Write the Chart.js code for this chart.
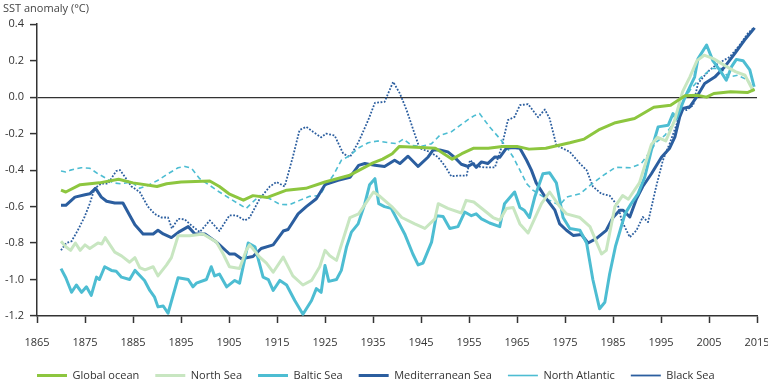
<!DOCTYPE html>
<html>
<head>
<meta charset="utf-8">
<script src="https://cdn.jsdelivr.net/npm/chart.js@4.4.1/dist/chart.umd.min.js"></script>
<style>
  html, body { margin: 0; padding: 0; background: #fff; }
  #wrap { width: 768px; height: 383px; position: relative; }
</style>
</head>
<body>
<div id="wrap"><canvas id="sstChart"></canvas></div>
<script>
// Tick values for the axes
const xTicks = [1865, 1875, 1885, 1895, 1905, 1915, 1925, 1935, 1945, 1955, 1965, 1975, 1985, 1995, 2005, 2015];
const yTicks = [-1.2, -1.0, -0.8, -0.6, -0.4, -0.2, 0.0, 0.2, 0.4];

// Global ocean
const globalYears = [1870, 1871, 1874, 1878, 1882, 1885, 1890, 1892, 1895, 1901, 1903, 1905, 1908, 1910, 1913, 1917, 1921, 1925, 1930, 1935, 1937, 1939, 1940.5, 1944, 1948, 1951.5, 1953.5, 1956, 1959, 1962, 1965, 1967.5, 1971, 1976, 1979, 1982, 1985.5, 1989.5, 1993.5, 1997, 2000, 2002.5, 2004.5, 2006, 2009.5, 2013, 2014.5];
const globalVals = [-0.51, -0.52, -0.48, -0.47, -0.45, -0.47, -0.49, -0.475, -0.465, -0.46, -0.49, -0.53, -0.565, -0.54, -0.55, -0.51, -0.5, -0.465, -0.43, -0.36, -0.34, -0.31, -0.27, -0.275, -0.28, -0.34, -0.31, -0.28, -0.28, -0.27, -0.27, -0.285, -0.28, -0.25, -0.23, -0.18, -0.14, -0.117, -0.055, -0.044, 0.008, 0.01, 0.0, 0.02, 0.03, 0.025, 0.042];

// North Sea
const northSeaYears = [1870, 1871, 1872, 1873, 1874, 1875, 1876, 1877.7, 1878.5, 1879.2, 1881.2, 1882.6, 1884.3, 1885.4, 1886.4, 1887.5, 1889.2, 1890.2, 1892, 1893, 1894.4, 1896.8, 1899.6, 1902.4, 1903.8, 1905.1, 1907.2, 1908.6, 1909.3, 1911.4, 1912.8, 1914.2, 1916.3, 1918.3, 1920.4, 1922.2, 1923.9, 1925, 1926, 1927.4, 1930.2, 1932, 1935.1, 1936.5, 1938.9, 1941, 1943.7, 1945.8, 1947.9, 1948.6, 1950.6, 1953.4, 1954.4, 1956, 1960, 1961.4, 1962.8, 1964.2, 1965.6, 1967.3, 1970.1, 1971.8, 1973.9, 1975.3, 1978.1, 1980.2, 1982.6, 1983.6, 1985.4, 1987, 1988.2, 1990.5, 1993, 1994.3, 1996, 1997.8, 1999.5, 2001, 2002.5, 2004, 2006, 2008.5, 2010.5, 2012.5, 2014.3];
const northSeaVals = [-0.79, -0.82, -0.84, -0.8, -0.84, -0.81, -0.83, -0.8, -0.805, -0.77, -0.85, -0.87, -0.905, -0.88, -0.935, -0.947, -0.93, -0.98, -0.92, -0.88, -0.76, -0.76, -0.75, -0.795, -0.86, -0.93, -0.94, -0.84, -0.81, -0.877, -0.91, -0.96, -0.877, -0.98, -1.03, -1.005, -0.93, -0.84, -0.87, -0.895, -0.66, -0.64, -0.52, -0.545, -0.6, -0.66, -0.695, -0.72, -0.667, -0.584, -0.61, -0.635, -0.566, -0.575, -0.66, -0.675, -0.61, -0.605, -0.695, -0.745, -0.584, -0.52, -0.6, -0.64, -0.66, -0.71, -0.86, -0.84, -0.6, -0.54, -0.56, -0.47, -0.26, -0.22, -0.24, -0.13, 0.03, 0.11, 0.2, 0.23, 0.21, 0.17, 0.14, 0.12, 0.03];

// Baltic Sea
const balticYears = [1870, 1871, 1872.2, 1873.2, 1874.3, 1875.3, 1876.3, 1877.4, 1878, 1879.1, 1880.5, 1881.5, 1882.6, 1884.3, 1885.4, 1887.4, 1888.5, 1889.5, 1890.2, 1891.3, 1892.3, 1894.4, 1896.5, 1897.5, 1898.2, 1900.3, 1901.3, 1902, 1903, 1904.5, 1906.2, 1907.2, 1909, 1910.4, 1912.1, 1913.2, 1914.2, 1915.6, 1917, 1918.7, 1920.4, 1922.2, 1923.2, 1924.2, 1925, 1925.8, 1927.4, 1928.4, 1929.5, 1930.5, 1931.9, 1933.3, 1934.3, 1935.4, 1936.2, 1937.4, 1938.8, 1941.6, 1943.3, 1944.4, 1945.4, 1947.2, 1948.2, 1949.6, 1951, 1952.7, 1954.1, 1955.5, 1956.5, 1957.6, 1959.3, 1961.4, 1962.4, 1964.5, 1965.6, 1966.5, 1967.6, 1968.7, 1970.4, 1971.8, 1973.2, 1974.6, 1976, 1978.1, 1979.5, 1980.8, 1982.2, 1983.3, 1984.3, 1985.5, 1986.5, 1987.5, 1988.8, 1990.2, 1991.6, 1993, 1994.4, 1996.5, 1997.5, 1998.2, 2000, 2002, 2002.7, 2004.5, 2005.8, 2007.2, 2008.6, 2009.7, 2010.7, 2012.1, 2013.5, 2014.4];
const balticVals = [-0.94, -0.99, -1.07, -1.03, -1.07, -1.04, -1.087, -0.987, -1.0, -0.93, -0.95, -0.955, -0.987, -1.0, -0.95, -1.005, -1.06, -1.097, -1.15, -1.145, -1.185, -0.99, -1.0, -1.04, -1.02, -1.0, -0.93, -0.98, -0.97, -1.04, -1.005, -1.02, -0.8, -0.82, -0.987, -1.0, -1.06, -1.005, -1.03, -1.115, -1.19, -1.115, -1.05, -1.07, -0.923, -1.01, -1.0, -0.95, -0.82, -0.74, -0.695, -0.584, -0.48, -0.447, -0.584, -0.6, -0.61, -0.75, -0.86, -0.92, -0.91, -0.795, -0.65, -0.655, -0.72, -0.71, -0.63, -0.65, -0.64, -0.667, -0.69, -0.71, -0.584, -0.52, -0.605, -0.62, -0.66, -0.548, -0.42, -0.415, -0.47, -0.66, -0.72, -0.73, -0.8, -1.0, -1.16, -1.125, -0.97, -0.82, -0.73, -0.64, -0.584, -0.53, -0.44, -0.29, -0.163, -0.154, -0.09, -0.12, 0.0, 0.11, 0.21, 0.286, 0.2, 0.15, 0.093, 0.167, 0.207, 0.2, 0.15, 0.057];

// Mediterranean Sea
const medYears = [1870, 1871, 1872.9, 1875, 1876, 1877.2, 1878.4, 1879.5, 1881.2, 1882.9, 1884.3, 1885.4, 1887.1, 1889.2, 1890.2, 1891.3, 1893, 1894.5, 1896.5, 1897.9, 1900, 1902.4, 1905.1, 1906.2, 1907.6, 1910, 1911.7, 1914.2, 1916.3, 1917.3, 1919.4, 1921.1, 1923.2, 1925, 1927.7, 1930.2, 1932, 1933.3, 1935.4, 1937.4, 1939.5, 1940.6, 1942.3, 1944.4, 1946.5, 1947.5, 1948.9, 1950.6, 1952, 1953.4, 1954.8, 1955.8, 1956.5, 1957.6, 1958.9, 1960.4, 1961.4, 1962.8, 1964.2, 1965.6, 1967, 1968, 1969, 1971.1, 1972.9, 1973.9, 1975.3, 1976.7, 1978.4, 1979.8, 1981.5, 1983.6, 1985, 1986.4, 1987.1, 1988.5, 1989.9, 1991.2, 1993, 1995.1, 1996.8, 1997.9, 1998.9, 1999.6, 2001, 2002.4, 2004.1, 2006.2, 2008.3, 2010.4, 2012.4, 2014.5];
const medVals = [-0.593, -0.593, -0.548, -0.535, -0.53, -0.5, -0.548, -0.571, -0.58, -0.58, -0.648, -0.7, -0.75, -0.75, -0.73, -0.75, -0.77, -0.74, -0.71, -0.75, -0.75, -0.795, -0.86, -0.86, -0.886, -0.874, -0.83, -0.81, -0.734, -0.726, -0.64, -0.6, -0.557, -0.48, -0.456, -0.44, -0.374, -0.364, -0.374, -0.38, -0.346, -0.364, -0.324, -0.38, -0.328, -0.29, -0.29, -0.3, -0.33, -0.368, -0.38, -0.364, -0.385, -0.355, -0.364, -0.328, -0.33, -0.28, -0.276, -0.28, -0.346, -0.4, -0.47, -0.557, -0.62, -0.695, -0.73, -0.758, -0.753, -0.8, -0.776, -0.73, -0.66, -0.62, -0.62, -0.657, -0.557, -0.49, -0.42, -0.33, -0.28, -0.218, -0.108, -0.062, -0.053, 0.0, 0.075, 0.11, 0.167, 0.24, 0.313, 0.38];

// North Atlantic
const atlYears = [1870, 1871, 1872, 1874.2, 1876, 1877.7, 1879.5, 1880.8, 1882.6, 1884.7, 1886.4, 1888.1, 1890.2, 1892.3, 1894.4, 1895.8, 1897.2, 1898.9, 1901, 1903, 1905.8, 1908.6, 1909.6, 1911.4, 1913.5, 1915.6, 1917.6, 1919.7, 1921.8, 1923.9, 1925, 1926.7, 1928.4, 1930.2, 1931.9, 1934, 1936, 1938.2, 1939.9, 1941.3, 1943, 1945.1, 1947.2, 1948.9, 1951.3, 1952.7, 1954.8, 1956.2, 1957.2, 1959.3, 1961.4, 1962.8, 1964.2, 1965.6, 1967, 1968.3, 1971.1, 1973.9, 1975.3, 1978.1, 1980.2, 1982.9, 1985.5, 1988.8, 1990.9, 1992.4, 1994.1, 1995.8, 1997.5, 1999.3, 2001.3, 2003.4, 2005.5, 2007.6, 2009, 2011, 2013.1, 2014.4];
const atlVals = [-0.405, -0.41, -0.4, -0.387, -0.39, -0.42, -0.447, -0.47, -0.475, -0.465, -0.5, -0.484, -0.456, -0.42, -0.387, -0.38, -0.39, -0.447, -0.484, -0.52, -0.566, -0.61, -0.584, -0.54, -0.557, -0.588, -0.59, -0.566, -0.544, -0.54, -0.49, -0.43, -0.346, -0.32, -0.28, -0.25, -0.24, -0.25, -0.255, -0.23, -0.264, -0.27, -0.255, -0.21, -0.19, -0.163, -0.123, -0.1, -0.09, -0.163, -0.227, -0.273, -0.328, -0.4, -0.474, -0.51, -0.557, -0.593, -0.548, -0.53, -0.484, -0.43, -0.385, -0.387, -0.364, -0.31, -0.245, -0.21, -0.145, -0.035, 0.048, 0.11, 0.157, 0.157, 0.11, 0.12, 0.093, 0.038];

// Black Sea
const blackYears = [1870, 1871.1, 1872.2, 1873.5, 1874.9, 1876, 1877, 1878.4, 1879.8, 1881.5, 1882.3, 1883.3, 1884.7, 1886.4, 1888.1, 1889.5, 1890.9, 1892.3, 1893.1, 1894.4, 1895.8, 1896.8, 1898.9, 1901, 1903, 1905.1, 1906.5, 1908.3, 1909.3, 1911.4, 1913.5, 1914.9, 1916.6, 1918.3, 1919.7, 1921.1, 1922.5, 1924.2, 1925.2, 1927, 1928.8, 1930.2, 1932, 1934, 1935.4, 1937.4, 1939.2, 1940.6, 1942, 1943.3, 1944.7, 1946.8, 1948.5, 1949.9, 1951.3, 1952.9, 1954.5, 1955.2, 1956.9, 1958.3, 1960.4, 1961.8, 1963.1, 1964.5, 1965.6, 1967.3, 1969.4, 1970.8, 1971.8, 1973.2, 1976, 1978.1, 1979.5, 1980.8, 1982.6, 1984.3, 1986.1, 1986.8, 1988.5, 1989.9, 1991.2, 1992.3, 1994, 1995.4, 1996.8, 1998.2, 1999.3, 2000.3, 2001.7, 2002.7, 2003.8, 2005.1, 2006.9, 2009.3, 2011.4, 2013.1, 2014.2];
const blackVals = [-0.84, -0.8, -0.79, -0.73, -0.657, -0.584, -0.5, -0.474, -0.474, -0.405, -0.4, -0.437, -0.49, -0.52, -0.6, -0.64, -0.66, -0.66, -0.72, -0.667, -0.67, -0.695, -0.74, -0.676, -0.734, -0.648, -0.648, -0.676, -0.66, -0.557, -0.49, -0.465, -0.49, -0.328, -0.18, -0.163, -0.19, -0.22, -0.2, -0.21, -0.31, -0.328, -0.245, -0.126, -0.031, -0.026, 0.084, 0.02, -0.071, -0.172, -0.28, -0.3, -0.328, -0.374, -0.434, -0.43, -0.43, -0.346, -0.38, -0.385, -0.385, -0.273, -0.126, -0.108, -0.044, -0.038, -0.11, -0.068, -0.117, -0.264, -0.3, -0.364, -0.4, -0.49, -0.53, -0.54, -0.6, -0.676, -0.768, -0.73, -0.657, -0.685, -0.49, -0.346, -0.254, -0.154, -0.053, -0.071, -0.044, 0.075, 0.11, 0.148, 0.185, 0.22, 0.286, 0.35, 0.378];

const LIME = '#8dc63f';
const PALE = '#c8e6c1';
const CYAN = '#4dbdd2';
const NAVY = '#2b5e9f';
const INK = '#333333';

function toPoints(years, vals) {
    return years.map((yr, i) => ({ x: yr, y: vals[i] }));
}

function series(label, years, vals, color, width, dash) {
    return {
        label: label,
        data: toPoints(years, vals),
        borderColor: color,
        backgroundColor: color,
        borderWidth: width,
        borderDash: dash || [],
        borderJoinStyle: 'round',
        pointRadius: 0,
        pointHoverRadius: 0,
        tension: 0,
        fill: false
    };
}

// legend starts under the y axis, like the original
const legendStart = {
    id: 'legendStart',
    afterLayout(chart) {
        chart.legend.left = 21;
    }
};

Chart.defaults.font.family = "'Open Sans', 'DejaVu Sans', sans-serif";
Chart.defaults.color = INK;

const ctx = document.getElementById('sstChart').getContext('2d');

new Chart(ctx, {
    type: 'line',
    data: {
        datasets: [
            series('Global ocean', globalYears, globalVals, LIME, 3),
            series('North Sea', northSeaYears, northSeaVals, PALE, 3),
            series('Baltic Sea', balticYears, balticVals, CYAN, 3),
            series('Mediterranean Sea', medYears, medVals, NAVY, 3),
            series('North Atlantic', atlYears, atlVals, CYAN, 1.6, [5, 3.5]),
            series('Black Sea', blackYears, blackVals, NAVY, 1.8, [1.8, 1.6])
        ]
    },
    plugins: [legendStart],
    options: {
        responsive: true,
        maintainAspectRatio: false,
        animation: false,
        layout: {
            padding: { left: 3, right: 0, top: 0, bottom: -8 }
        },
        plugins: {
            title: {
                display: true,
                text: 'SST anomaly (°C)',
                align: 'start',
                color: '#444',
                font: { size: 11, weight: 'normal' },
                padding: { top: 2.5, bottom: 8.5 }
            },
            legend: {
                position: 'bottom',
                align: 'start',
                labels: {
                    usePointStyle: true,
                    pointStyle: 'line',
                    pointStyleWidth: 30,
                    boxHeight: 11,
                    padding: 16,
                    color: INK,
                    font: { size: 11 }
                }
            },
            tooltip: { enabled: false }
        },
        scales: {
            x: {
                type: 'linear',
                min: 1865,
                max: 2015,
                afterBuildTicks: (scale) => {
                    scale.ticks = xTicks.map(v => ({ value: v }));
                },
                afterFit: (scale) => {
                    scale.height = 38;
                    scale.paddingRight = 11;
                    scale.paddingLeft = 0;
                },
                ticks: {
                    callback: (v) => String(v),
                    padding: 13,
                    maxRotation: 0,
                    autoSkip: false,
                    color: INK,
                    font: { size: 11 }
                },
                grid: {
                    drawOnChartArea: false,
                    drawTicks: true,
                    tickLength: 7,
                    tickColor: INK,
                    tickWidth: 1.5
                },
                border: { display: true, color: INK, width: 1.5 }
            },
            y: {
                min: -1.2,
                max: 0.4,
                afterBuildTicks: (scale) => {
                    scale.ticks = yTicks.map(v => ({ value: v }));
                },
                afterFit: (scale) => {
                    scale.width = 34;
                },
                ticks: {
                    callback: (v) => v.toFixed(1),
                    padding: 6,
                    color: INK,
                    font: { size: 11 }
                },
                grid: {
                    color: (c) => (c.tick && Math.abs(c.tick.value) < 1e-9) ? INK : 'rgba(0,0,0,0)',
                    lineWidth: 1.2,
                    tickLength: 7,
                    tickColor: INK,
                    tickWidth: 1.5
                },
                border: { display: true, color: INK, width: 1.5 }
            }
        }
    }
});
</script>
</body>
</html>
